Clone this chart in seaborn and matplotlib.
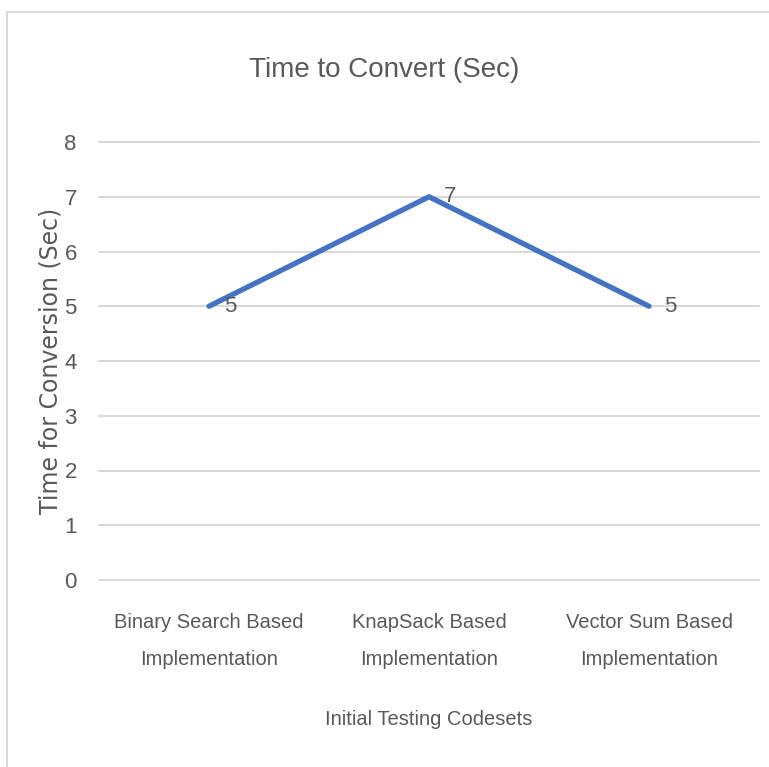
import matplotlib
matplotlib.use("Agg")
import matplotlib.pyplot as plt
import pandas as pd
import seaborn as sns

# chart data
codesets = ["Binary Search Based\nImplementation",
            "KnapSack Based\nImplementation",
            "Vector Sum Based\nImplementation"]
times = [5, 7, 5]
y_ticks = [0, 1, 2, 3, 4, 5, 6, 7, 8]

title = "Time to Convert (Sec)"
x_title = "Initial Testing Codesets"
y_title = "Time for Conversion (Sec)"

sns.set_theme(style="white")
plt.rcParams["font.family"] = ["Liberation Sans", "DejaVu Sans"]

text_col = "#595959"
grid_col = "#D9D9D9"
line_col = "#4472C4"

df = pd.DataFrame({"codeset": codesets, "time": times})

fig = plt.figure(figsize=(7.69, 7.67), dpi=100)
ax = fig.add_axes([99 / 769, 1 - 580 / 767, 660 / 769, 438 / 767])

sns.lineplot(data=df, x="codeset", y="time", ax=ax, color=line_col,
             linewidth=3.8, sort=False, solid_capstyle="round")

ax.set_xlim(-0.5, len(codesets) - 0.5)
ax.set_ylim(min(y_ticks), max(y_ticks))
ax.set_yticks(y_ticks)
ax.set_axisbelow(True)
ax.yaxis.grid(True, color=grid_col, linewidth=1.5)
ax.xaxis.grid(False)
for g in ax.get_ygridlines():
    g.set_clip_on(False)
for s in ax.spines.values():
    s.set_visible(False)
ax.tick_params(axis="both", length=0, labelcolor=text_col)
ax.tick_params(axis="y", pad=16, labelsize=16)
ax.tick_params(axis="x", pad=24, labelsize=14.5)
for lbl in ax.get_xticklabels():
    lbl.set_linespacing(2.15)

# data labels to the right of the points
for i, v in enumerate(times):
    ax.annotate(str(v), (i, v), xytext=(11, 0), textcoords="offset points",
                ha="left", va="center", fontsize=16, color=text_col)

ax.set_xlabel(x_title, fontsize=14.5, color=text_col, labelpad=30)
ax.set_ylabel(y_title, fontsize=17, color=text_col, labelpad=1,
              family=["DejaVu Sans"])

fig.text(0.5, 1 - 70 / 767, title, ha="center", va="center",
         fontsize=20, color=text_col)

# chart frame (top and left edges visible)
fig.add_artist(plt.Line2D([7 / 769, 1], [1 - 12 / 767, 1 - 12 / 767],
                          transform=fig.transFigure, color=grid_col, linewidth=1.5))
fig.add_artist(plt.Line2D([7 / 769, 7 / 769], [0, 1 - 12 / 767],
                          transform=fig.transFigure, color=grid_col, linewidth=1.5))

fig.savefig("out.png", dpi=100, facecolor="white")
